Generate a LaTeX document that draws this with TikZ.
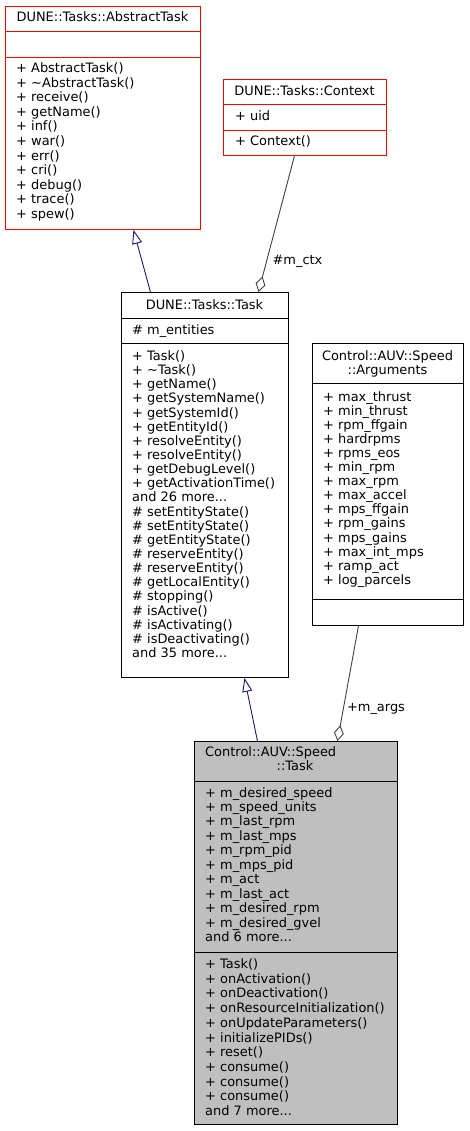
\documentclass[tikz,border=0pt]{standalone}
\usepackage{fontspec}
\setmainfont{DejaVu Sans}
\usetikzlibrary{arrows.meta}
\definecolor{edgeblue}{HTML}{191970}
\definecolor{agggrey}{HTML}{404040}
\definecolor{boxgrey}{HTML}{BFBFBF}
\definecolor{boxred}{HTML}{FF0000}
\tikzset{
  umlbox/.style={draw=black, line width=0.9pt, inner sep=0pt, anchor=north west},
  redbox/.style={umlbox, draw=boxred},
  txt/.style={inner sep=0pt, anchor=base west, font=\fontsize{12.95}{14}\selectfont},
  ctxt/.style={txt, anchor=base},
  inh/.style={draw=edgeblue, line width=0.9pt, -{Triangle[open, length=14pt, width=10pt]}},
  agg/.style={draw=agggrey, line width=0.9pt, -{Diamond[open, length=16pt, width=10pt]}},
  divline/.style={line width=0.9pt},
}
\newcommand\tdots{...}
\newcommand\memlines[5]{\foreach \t [count=\i] in {#5}{\node[txt] (#1-\i) at (#2,{#3+(\i-1)*#4}) {\t};}}
\begin{document}
\begin{tikzpicture}[x=1pt,y=-1pt]
\useasboundingbox (0,0) rectangle (469,1131);

% AbstractTask
\node[redbox, minimum width=195pt, minimum height=223pt] (abs) at (5,6) {};
\draw[divline, boxred] (abs.west |- 0,31) -- (abs.east |- 0,31);
\draw[divline, boxred] (abs.west |- 0,57) -- (abs.east |- 0,57);
\node[ctxt] (abs-t) at (102.5,21.8) {DUNE::Tasks::AbstractTask};
\memlines{absm}{16}{72.5}{14.6}{+ AbstractTask(),+ \textasciitilde AbstractTask(),+ receive(),+ getName(),+ inf(),+ war(),+ err(),+ cri(),+ debug(),+ trace(),+ spew()}

% Context
\node[redbox, minimum width=163pt, minimum height=76pt] (ctx) at (223,79) {};
\draw[divline, boxred] (ctx.west |- 0,104) -- (ctx.east |- 0,104);
\draw[divline, boxred] (ctx.west |- 0,130) -- (ctx.east |- 0,130);
\node[ctxt] (ctx-t) at (304.5,95.2) {DUNE::Tasks::Context};
\node[txt] (ctx-a) at (235,120.5) {+ uid};
\node[txt] (ctx-m) at (235,146) {+ Context()};

% DUNE::Tasks::Task
\node[umlbox, minimum width=167pt, minimum height=385pt] (task) at (121,292) {};
\draw[divline] (task.west |- 0,318) -- (task.east |- 0,318);
\draw[divline] (task.west |- 0,343) -- (task.east |- 0,343);
\node[ctxt] (task-t) at (204.5,309.5) {DUNE::Tasks::Task};
\node[txt] (task-a) at (132,334.5) {\# m\_entities};
\memlines{taskm}{132}{360.5}{14.14}{+ Task(),+ \textasciitilde Task(),+ getName(),+ getSystemName(),+ getSystemId(),+ getEntityId(),+ resolveEntity(),+ resolveEntity(),+ getDebugLevel(),+ getActivationTime(),and 26 more\tdots,\# setEntityState(),\# setEntityState(),\# getEntityState(),\# reserveEntity(),\# reserveEntity(),\# getLocalEntity(),\# stopping(),\# isActive(),\# isActivating(),\# isDeactivating(),and 35 more\tdots}

% Arguments
\node[umlbox, minimum width=151pt, minimum height=282pt] (args) at (312,343) {};
\draw[divline] (args.west |- 0,383) -- (args.east |- 0,383);
\draw[divline] (args.west |- 0,599) -- (args.east |- 0,599);
\node[ctxt] (args-t1) at (387.5,360.5) {Control::AUV::Speed};
\node[ctxt] (args-t2) at (387.5,374.5) {::Arguments};
\memlines{argsa}{323}{401}{14.1}{+ max\_thrust,+ min\_thrust,+ rpm\_ffgain,+ hardrpms,+ rpms\_eos,+ min\_rpm,+ max\_rpm,+ max\_accel,+ mps\_ffgain,+ rpm\_gains,+ mps\_gains,+ max\_int\_mps,+ ramp\_act,+ log\_parcels}

% Control::AUV::Speed::Task
\node[umlbox, fill=boxgrey, minimum width=203pt, minimum height=383pt] (spd) at (194,741) {};
\draw[divline] (spd.west |- 0,781) -- (spd.east |- 0,781);
\draw[divline] (spd.west |- 0,952) -- (spd.east |- 0,952);
\node[txt] (spd-t1) at (205,756.5) {Control::AUV::Speed};
\node[ctxt] (spd-t2) at (295,770.5) {::Task};
\memlines{spda}{205}{797}{14.47}{+ m\_desired\_speed,+ m\_speed\_units,+ m\_last\_rpm,+ m\_last\_mps,+ m\_rpm\_pid,+ m\_mps\_pid,+ m\_act,+ m\_last\_act,+ m\_desired\_rpm,+ m\_desired\_gvel,and 6 more\tdots}
\memlines{spdm}{205}{968.5}{14.7}{+ Task(),+ onActivation(),+ onDeactivation(),+ onResourceInitialization(),+ onUpdateParameters(),+ initializePIDs(),+ reset(),+ consume(),+ consume(),+ consume(),and 7 more\tdots}

% connectors
\draw[inh] ([xshift=-54.5pt]task.north) -- ([xshift=30.5pt]abs.south);
\draw[agg] ([xshift=-10.5pt]ctx.south) -- ([xshift=53.5pt]task.north);
\node[ctxt] (lbl-ctx) at (297.5,264.5) {\#m\_ctx};
\draw[inh] ([xshift=-38.5pt]spd.north) -- ([xshift=39.5pt]task.south);
\draw[agg] ([xshift=-29.5pt]args.south) -- ([xshift=41.5pt]spd.north);
\node[ctxt] (lbl-args) at (376,711.5) {+m\_args};
\end{tikzpicture}
\end{document}
